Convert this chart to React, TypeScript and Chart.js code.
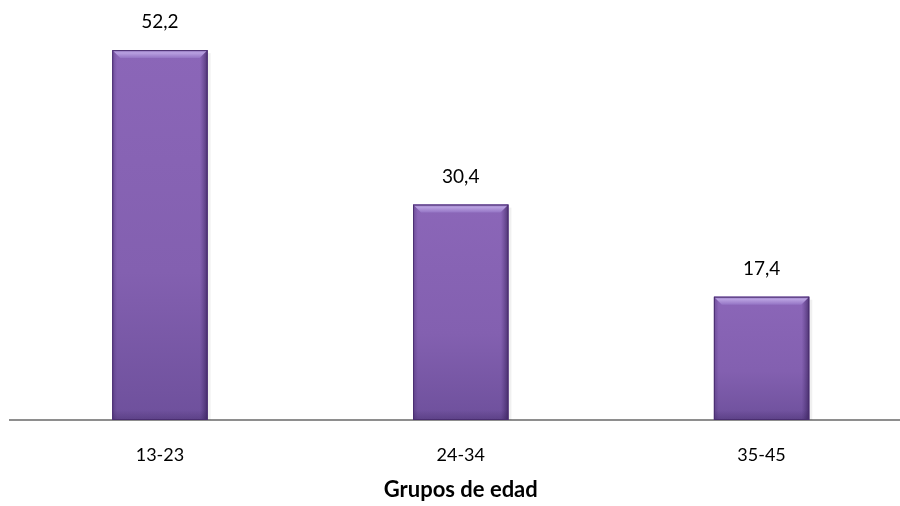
import React, { useEffect, useRef } from "react";
import { Chart, registerables } from "chart.js";

Chart.register(...registerables);

const categories = ["13-23", "24-34", "35-45"];
const values = [52.2, 30.4, 17.4];
const valueLabels = ["52,2", "30,4", "17,4"];
const axisTitle = "Grupos de edad";

const FONT = "Lato, 'Open Sans', sans-serif";

const bevelPlugin = {
  id: "bevel",
  afterDatasetsDraw(chart: any) {
    const ctx = chart.ctx;
    const meta = chart.getDatasetMeta(0);
    meta.data.forEach((bar: any, i: number) => {
      const l = bar.x - bar.width / 2;
      const r = bar.x + bar.width / 2;
      const t = bar.y;
      const b = bar.base;
      const w = r - l;
      const bv = 8;
      ctx.save();
      ctx.fillStyle = "rgba(0,0,0,0.06)";
      ctx.fillRect(r, t + 3, 3, b - t - 3);
      const fg = ctx.createLinearGradient(0, t, 0, b);
      fg.addColorStop(0, "#8b66b8");
      fg.addColorStop(0.6, "#8360b0");
      fg.addColorStop(1, "#6e509c");
      ctx.fillStyle = fg;
      ctx.fillRect(l, t, w, b - t);
      const hg = ctx.createLinearGradient(l, 0, r, 0);
      hg.addColorStop(0, "rgba(60,35,100,0.35)");
      hg.addColorStop(0.05, "rgba(60,35,100,0.0)");
      hg.addColorStop(0.92, "rgba(60,35,100,0.0)");
      hg.addColorStop(1, "rgba(40,20,70,0.6)");
      ctx.fillStyle = hg;
      ctx.fillRect(l, t, w, b - t);
      const tg = ctx.createLinearGradient(0, t, 0, t + bv);
      tg.addColorStop(0, "#9b7fc6");
      tg.addColorStop(0.35, "#b8a0e0");
      tg.addColorStop(1, "#9474c4");
      ctx.fillStyle = tg;
      ctx.beginPath();
      ctx.moveTo(l, t);
      ctx.lineTo(r, t);
      ctx.lineTo(r - bv, t + bv);
      ctx.lineTo(l + bv, t + bv);
      ctx.closePath();
      ctx.fill();
      const bg = ctx.createLinearGradient(0, b - 10, 0, b);
      bg.addColorStop(0, "rgba(50,30,85,0)");
      bg.addColorStop(1, "rgba(50,30,85,0.3)");
      ctx.fillStyle = bg;
      ctx.fillRect(l, b - 10, w, 10);
      ctx.strokeStyle = "#4a2e70";
      ctx.lineWidth = 1;
      ctx.strokeRect(l + 0.5, t + 0.5, w - 1, b - t - 1);
      ctx.fillStyle = "#000";
      ctx.font = "19px " + FONT;
      ctx.textAlign = "center";
      ctx.textBaseline = "middle";
      ctx.fillText(valueLabels[i], bar.x, t - 28);
      ctx.restore();
    });
    // axis title
    const area = chart.chartArea;
    ctx.save();
    ctx.fillStyle = "#000";
    ctx.font = "bold 22px " + FONT;
    ctx.textAlign = "center";
    ctx.textBaseline = "middle";
    ctx.fillText(axisTitle, (area.left + area.right) / 2, area.bottom + 70);
    ctx.restore();
  },
};

export default function App() {
  const ref = useRef<HTMLCanvasElement | null>(null);
  useEffect(() => {
    document.body.style.margin = "0";
    const chart = new Chart(ref.current as HTMLCanvasElement, {
      type: "bar",
      data: {
        labels: categories,
        datasets: [
          {
            data: values,
            backgroundColor: "#8761b3",
            barPercentage: 0.317,
            categoryPercentage: 1,
          },
        ],
      },
      options: {
        responsive: false,
        animation: false,
        layout: { padding: { left: 9.5, right: 0, top: 9, bottom: 0 } },
        plugins: { legend: { display: false }, tooltip: { enabled: false } },
        scales: {
          y: { display: false, min: 0, max: 58 },
          x: {
            afterFit: (scale: any) => {
              scale.height = 86;
            },
            grid: { display: false },
            border: { display: true, color: "#8e8e8e", width: 2 },
            ticks: {
              color: "#000",
              padding: 16,
              font: { size: 18, family: FONT },
            },
          },
        },
      },
      plugins: [bevelPlugin],
    });
    return () => chart.destroy();
  }, []);
  return (
    <div style={{ width: 900, height: 506, overflow: "hidden", background: "#fff" }}>
      <canvas ref={ref} width={912} height={506} style={{ display: "block" }} />
    </div>
  );
}
